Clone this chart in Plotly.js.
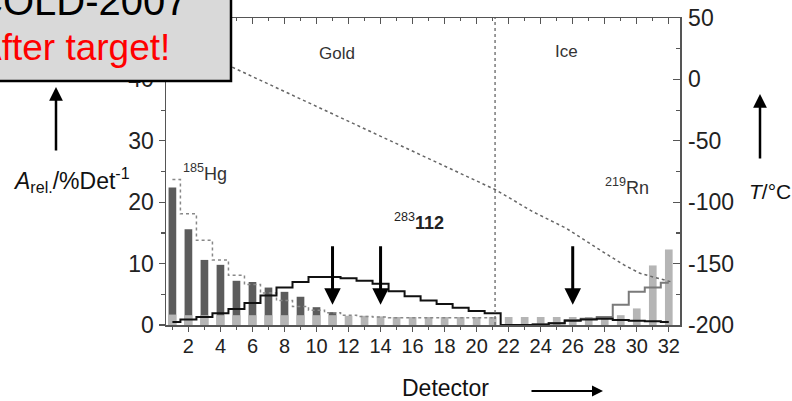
<!DOCTYPE html>
<html><head><meta charset="utf-8">
<script src="https://cdn.plot.ly/plotly-3.0.1.min.js"></script>
<style>html,body{margin:0;padding:0;background:#fff;}#chart{width:792px;height:401px;}</style>
</head><body><div id="chart"></div>
<script>
// ---- data ----
const detectors = [1,2,3,4,5,6,7,8,9,10,11,12,13,14,15,16,17,18,19,20,21,22,23,24,25,26,27,28,29,30,31,32];
const hgDetectors = [1,2,3,4,5,6,7,8,9,10,11];
const hgMeasured = [22.4,15.6,10.6,9.8,7.2,7.0,6.1,5.4,4.6,2.9,2.1];            // dark bars, 185Hg
const rnMeasured = [1.7,1.6,1.6,1.6,1.6,1.6,1.6,1.6,1.6,1.6,1.6,1.5,1.5,1.4,1.3,1.3,
                    1.3,1.3,1.3,1.3,1.3,1.3,1.3,1.3,1.3,1.3,1.3,1.4,1.6,2.7,9.7,12.3]; // light bars, 219Rn
const hgSimDetectors = [1,2,3,4,5,6,7,8,9,10,11,12,13,14,15,16,17,18,19,20,21];
const hgSimulated = [23.7,18.1,13.8,10.6,8.1,6.6,5.2,4.0,3.0,2.4,2.0,1.6,1.4,1.3,1.2,1.2,1.2,1.2,1.2,1.2,1.2];
const e112Simulated = [0.5,0.9,1.3,1.9,2.6,3.6,4.8,6.1,7.0,7.8,7.8,7.6,7.2,6.7,5.5,4.7,4.0,3.4,2.8,2.3,1.9,
                       0,0,0.1,0.3,0.7,0.9,1.0,0.8,0.7,0.6,0.5];
const rnSimDetectors = [22,23,24,25,26,27,28,29,30,31,32];
const rnSimulated = [0,0,0.1,0.3,0.8,1.0,1.3,3.3,5.4,6.1,6.9];
const tempDetectors = [4.4,21.2,23.5,25.6,27.7,29.2,30.2,31.3,32.1];
const tempValues = [12,-90,-107.7,-121.3,-138.9,-151.1,-157.9,-162,-164.7];
const arrowDetectors = [11,14,26];
const goldIceBoundary = 21.15;
const xTickVals = [2,4,6,8,10,12,14,16,18,20,22,24,26,28,30,32];
const yTickVals = [0,10,20,30,40,50];
const tTickVals = [-200,-150,-100,-50,0,50];
const tTickText = ['-200','-150','-100','-50','0','50'];

// ---- layout helpers ----
const W=792,H=401,ML=166,MR=112,MT=18,MB=76;
const PW=W-ML-MR, PH=H-MT-MB;
const px = x => (x-ML)/PW;
const py = y => (H-MB-y)/PH;
const FONT = 'Arial, "Liberation Sans", sans-serif';
const AX = '#555';

const traces = [
  {type:'bar', x:hgDetectors, y:hgMeasured, width:0.48, marker:{color:'#5c5c5c'}, hoverinfo:'skip'},
  {type:'bar', x:detectors, y:rnMeasured, width:0.48, marker:{color:'#b5b5b5'}, hoverinfo:'skip'},
  {type:'scatter', mode:'lines', x:hgSimDetectors, y:hgSimulated, line:{shape:'hvh', color:'#888', width:1.5, dash:'dot'}},
  {type:'scatter', mode:'lines', x:rnSimDetectors, y:rnSimulated, line:{shape:'hvh', color:'#7a7a7a', width:2}},
  {type:'scatter', mode:'lines', x:detectors, y:e112Simulated, line:{shape:'hvh', color:'#111', width:2}},
  {type:'scatter', mode:'lines', x:tempDetectors, y:tempValues, yaxis:'y2', line:{color:'#666', width:1.5, dash:'dot'}},
  {type:'scatter', mode:'lines', x:[], y:[], xaxis:'x2', yaxis:'y'}
];

const tickfont = {family:FONT, size:23, color:'#222'};
const C = {xanchor:'center', yanchor:'middle'};
const annotations = [
  {...C, x:11.25, y:44.3, text:'Gold', showarrow:false, font:{family:FONT,size:17,color:'#333'}},
  {...C, x:25.6, y:44.5, text:'Ice', showarrow:false, font:{family:FONT,size:17,color:'#333'}},
  {...C, x:3.05, y:24.9, text:'<sup>185</sup>Hg', showarrow:false, font:{family:FONT,size:18,color:'#333'}},
  {...C, x:29.4, y:22.6, text:'<sup>219</sup>Rn', showarrow:false, font:{family:FONT,size:18,color:'#333'}},
  {...C, x:16.4, y:16.9, text:'<sup>283</sup><b>112</b>', showarrow:false, font:{family:FONT,size:18,color:'#222'}},
  // axis labels and arrows
  {...C, xref:'paper', yref:'paper', x:px(71), y:py(180), text:'<i>A</i><sub>rel.</sub>/%Det<sup>-1</sup>', showarrow:false, font:{family:FONT,size:23,color:'#111'}},
  {xref:'paper', yref:'paper', x:px(56), y:py(87), ax:0, ay:65, text:'', showarrow:true, arrowhead:2, arrowwidth:2.5, arrowsize:1.1, arrowcolor:'#000'},
  {...C, xref:'paper', yref:'paper', x:px(770), y:py(191), text:'<i>T</i>/°C', showarrow:false, font:{family:FONT,size:21,color:'#111'}},
  {xref:'paper', yref:'paper', x:px(760), y:py(94), ax:0, ay:66, text:'', showarrow:true, arrowhead:2, arrowwidth:2.5, arrowsize:1.1, arrowcolor:'#000'},
  {...C, xref:'paper', yref:'paper', x:px(445), y:py(388), text:'Detector', showarrow:false, font:{family:FONT,size:23,color:'#111'}},
  {xref:'paper', yref:'paper', x:px(603), y:py(391), ax:-73, ay:0, text:'', showarrow:true, arrowhead:2, arrowwidth:2, arrowsize:1.1, arrowcolor:'#000'},
  // overlay box text
  {xref:'paper', yref:'paper', x:px(-28), xanchor:'left', y:py(1), yanchor:'middle', text:'COLD-2007', showarrow:false, font:{family:FONT,size:40,color:'#000'}},
  {xref:'paper', yref:'paper', x:px(-25), xanchor:'left', y:py(47), yanchor:'middle', text:'After target!', showarrow:false, font:{family:FONT,size:37,color:'#ff0000'}}
];
arrowDetectors.forEach(d => annotations.push(
  {x:d, y:3.3, ax:0, ay:-60, text:'', showarrow:true, arrowhead:2, arrowwidth:3, arrowsize:1.1, arrowcolor:'#000'}));

const layout = {
  width:W, height:H, margin:{l:ML,r:MR,t:MT,b:MB,pad:0},
  paper_bgcolor:'#fff', plot_bgcolor:'#fff', showlegend:false, barmode:'overlay',
  font:{family:FONT},
  xaxis:{range:[0.6,32.7], tickmode:'array', tickvals:xTickVals, ticks:'outside', ticklen:5, tickwidth:1.3, tickcolor:AX,
         minor:{tickmode:'linear', tick0:0, dtick:1, ticks:'outside', ticklen:3, tickcolor:AX, tickwidth:1.2},
         ticklabelstandoff:-3,
         showline:true, linecolor:AX, linewidth:1.5, showgrid:false, zeroline:false, automargin:false,
         tickfont:{family:FONT,size:20,color:'#222'}},
  xaxis2:{range:[0.6,32.7], overlaying:'x', side:'top', anchor:'y', tickmode:'array', tickvals:xTickVals, ticks:'inside', ticklen:6, tickwidth:1.3, tickcolor:AX,
         minor:{tickmode:'linear', tick0:0, dtick:1, ticks:'inside', ticklen:3, tickcolor:AX, tickwidth:1.2},
         showticklabels:false, showline:true, linecolor:AX, linewidth:1.5, showgrid:false, zeroline:false, automargin:false},
  yaxis:{range:[0,50], tickmode:'array', tickvals:yTickVals, ticks:'outside', ticklen:6, tickwidth:1.3, tickcolor:AX,
         minor:{tickmode:'linear', tick0:0, dtick:5, ticks:'outside', ticklen:4, tickcolor:AX, tickwidth:1.2},
         showline:true, linecolor:AX, linewidth:1.5, showgrid:false, zeroline:false, automargin:false, tickfont:tickfont},
  yaxis2:{range:[-200,50], overlaying:'y', side:'right', anchor:'x', tickmode:'array', tickvals:tTickVals, ticktext:tTickText,
         ticks:'inside', ticklen:7, tickwidth:1.3, tickcolor:AX, ticklabelstandoff:2,
         minor:{tickmode:'linear', tick0:-200, dtick:25, ticks:'inside', ticklen:4, tickcolor:AX, tickwidth:1.2},
         showline:true, linecolor:AX, linewidth:1.5, showgrid:false, zeroline:false, automargin:false, tickfont:tickfont},
  shapes:[
    {type:'line', xref:'x', yref:'paper', x0:goldIceBoundary, x1:goldIceBoundary, y0:0, y1:1, line:{color:'#666', width:1.3, dash:'dot'}},
    {type:'rect', xref:'paper', yref:'paper', layer:'above', x0:px(-12), x1:px(231), y0:py(81), y1:py(-12),
     fillcolor:'#d9d9d9', line:{color:'#000', width:2.5}}
  ],
  annotations:annotations
};
Plotly.newPlot('chart', traces, layout, {staticPlot:true, displayModeBar:false});
</script></body></html>
